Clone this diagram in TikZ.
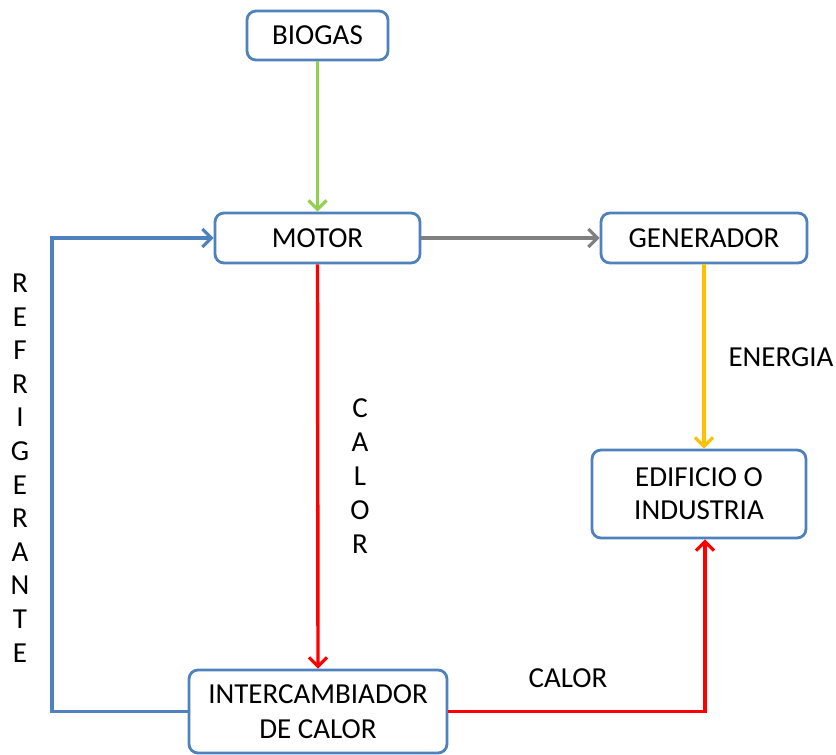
\documentclass[tikz,border=0pt]{standalone}
\usepackage{fontspec}
\setmainfont{Carlito}
\usetikzlibrary{arrows.meta}
\definecolor{boxblue}{RGB}{79,129,189}
\definecolor{agreen}{RGB}{146,208,80}
\definecolor{agray}{RGB}{128,128,128}
\definecolor{ayellow}{RGB}{255,192,0}
\definecolor{ared}{RGB}{255,0,0}
\tikzset{
  box/.style={draw=boxblue, line width=2.8pt, rounded corners=9pt, fill=white,
    align=center, inner sep=0pt, font=\fontsize{29}{34}\selectfont},
  conn/.style={line width=3.4pt, -{Straight Barb[length=9pt,width=18pt,line width=3.2pt]}},
  lbl/.style={font=\fontsize{29}{34}\selectfont, inner sep=0pt, align=center}
}
\begin{document}
\begin{tikzpicture}[x=1pt,y=-1pt]
\useasboundingbox (0,0) rectangle (836,755);
\node[box, minimum width=141pt, minimum height=49pt] (bio) at (317.5,35.5) {BIOGAS};
\node[box, minimum width=205pt, minimum height=50pt] (mot) at (317.5,238) {MOTOR};
\node[box, minimum width=206pt, minimum height=50pt] (gen) at (704,238) {GENERADOR};
\node[box, minimum width=214pt, minimum height=88pt, font=\fontsize{29}{33}\selectfont] (edi) at (699,494) {EDIFICIO O\\INDUSTRIA};
\node[box, minimum width=258pt, minimum height=83pt, font=\fontsize{29}{35}\selectfont] (int) at (318,711.5) {INTERCAMBIADOR\\DE CALOR};
\coordinate (bl) at (52,711.5);
\coordinate (tl) at (52,238);
\coordinate (rc) at (705,711.5);
\draw[conn, agreen] (bio.south) -- (mot.north);
\draw[conn, agray] (mot.east) -- (gen.west);
\draw[conn, ayellow] (gen.south) -- (gen.south |- edi.north);
\draw[conn, ared] (mot.south) -- (int.north);
\draw[conn, ared] (int.east) -- (rc) -- (rc |- edi.south);
\draw[conn, boxblue] (int.west) -- (bl) -- (tl) -- (mot.west);
\node[lbl] (energia) at (781,357) {ENERGIA};
\node[lbl] (calor2) at (568,678) {CALOR};
\node[lbl, font=\fontsize{29}{34}\selectfont] (calor1) at (360,476.5) {C\\A\\L\\O\\R};
\node[lbl, font=\fontsize{29}{33.6}\selectfont] (refr) at (20,468) {R\\E\\F\\R\\I\\G\\E\\R\\A\\N\\T\\E};
\end{tikzpicture}
\end{document}
